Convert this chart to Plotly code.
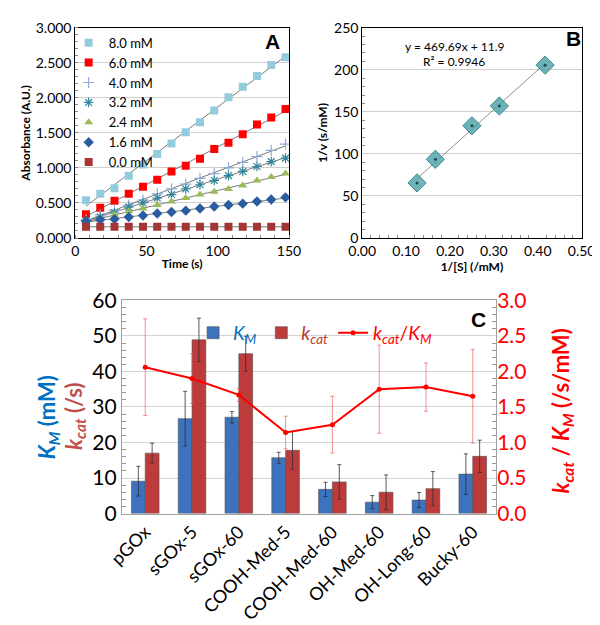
import numpy as np
import plotly.graph_objects as go

FONT = "Lato, 'Open Sans', sans-serif"

# ---------------- Panel A data ----------------
time_s = [7.5, 17.5, 27.5, 37.5, 47.5, 57.5, 67.5, 77.5, 87.5, 97.5, 107.5, 117.5, 127.5, 137.5, 147.5]
abs_8_0 = [0.54, 0.63, 0.71, 0.89, 1.05, 1.20, 1.35, 1.51, 1.65, 1.82, 2.01, 2.16, 2.31, 2.47, 2.58]
abs_6_0 = [0.34, 0.43, 0.53, 0.63, 0.73, 0.83, 0.95, 1.03, 1.13, 1.27, 1.36, 1.48, 1.62, 1.72, 1.84]
abs_4_0 = [0.26, 0.33, 0.40, 0.47, 0.54, 0.63, 0.70, 0.77, 0.85, 0.92, 1.00, 1.08, 1.16, 1.25, 1.34]
abs_3_2 = [0.25, 0.30, 0.36, 0.44, 0.50, 0.57, 0.62, 0.70, 0.76, 0.82, 0.89, 0.95, 1.02, 1.09, 1.14]
abs_2_4 = [0.23, 0.29, 0.33, 0.38, 0.42, 0.47, 0.52, 0.57, 0.62, 0.66, 0.70, 0.75, 0.82, 0.87, 0.92]
abs_1_6 = [0.24, 0.26, 0.27, 0.30, 0.32, 0.35, 0.37, 0.39, 0.42, 0.45, 0.47, 0.49, 0.52, 0.55, 0.58]
abs_0_0 = [0.16, 0.16, 0.16, 0.16, 0.16, 0.16, 0.16, 0.16, 0.16, 0.16, 0.16, 0.16, 0.16, 0.16, 0.16]
conc_labels = ["8.0 mM", "6.0 mM", "4.0 mM", "3.2 mM", "2.4 mM", "1.6 mM", "0.0 mM"]
a_ticks = [0, 0.5, 1.0, 1.5, 2.0, 2.5, 3.0]

# ---------------- Panel B data ----------------
inv_S = [0.125, 0.1667, 0.25, 0.3125, 0.4167]
inv_v = [65.5, 93.5, 133.5, 157.0, 205.5]
fit_slope = 469.69
fit_intercept = 11.9
fit_r2 = 0.9946

# ---------------- Panel C data ----------------
samples = ["pGOx", "sGOx-5", "sGOx-60", "COOH-Med-5", "COOH-Med-60", "OH-Med-60", "OH-Long-60", "Bucky-60"]
KM = [9.1, 26.7, 27.1, 15.7, 6.8, 3.2, 3.8, 11.1]
KM_err = [4.2, 7.7, 1.6, 1.55, 2.0, 1.85, 2.1, 5.7]
kcat = [17.0, 48.9, 45.0, 17.8, 8.9, 6.0, 7.0, 16.1]
kcat_err = [2.8, 6.1, 4.9, 5.3, 4.85, 4.85, 4.8, 4.55]
ratio = [2.06, 1.90, 1.67, 1.14, 1.25, 1.75, 1.78, 1.65]
ratio_err = [0.68, 0.35, 0.09, 0.23, 0.40, 0.62, 0.34, 0.66]

W, H = 600, 625
def px(x):
    return x / W
def py(y):
    return 1 - y / H

fig = go.Figure()

# ---- Panel A traces ----
styles_A = [
    dict(symbol="square", color="#93CDDD", size=8),
    dict(symbol="square", color="#FF0000", size=8),
    dict(symbol="cross-thin-open", color="#8EA9DB", size=8, line=dict(width=1.2, color="#8EA9DB")),
    dict(symbol="asterisk-open", color="#31859C", size=8, line=dict(width=1.2, color="#31859C")),
    dict(symbol="triangle-up", color="#9BBB59", size=8),
    dict(symbol="diamond", color="#2A5D9F", size=8),
    dict(symbol="square", color="#A33535", size=8),
]
series_A = [abs_8_0, abs_6_0, abs_4_0, abs_3_2, abs_2_4, abs_1_6, abs_0_0]
t = np.array(time_s)
for ys in series_A:
    m, b = np.polyfit(t, np.array(ys), 1)
    xs = [t[0], t[-1]]
    fig.add_trace(go.Scatter(x=xs, y=[m * xs[0] + b, m * xs[1] + b], mode="lines",
                             line=dict(color="#404040", width=0.7), showlegend=False,
                             xaxis="x", yaxis="y", hoverinfo="skip"))
for ys, lab, st in zip(series_A, conc_labels, styles_A):
    fig.add_trace(go.Scatter(x=time_s, y=ys, mode="markers", name=lab, marker=st,
                             xaxis="x", yaxis="y", legend="legend"))

# ---- Panel B traces ----
xfit = [min(inv_S), max(inv_S)]
fig.add_trace(go.Scatter(x=xfit, y=[fit_slope * v + fit_intercept for v in xfit], mode="lines",
                         line=dict(color="#606060", width=0.7), showlegend=False,
                         xaxis="x2", yaxis="y2"))
fig.add_trace(go.Scatter(x=inv_S, y=inv_v, mode="markers", showlegend=False,
                         marker=dict(symbol="diamond", size=14, color="rgba(72,160,165,0.8)",
                                     line=dict(color="#3A8A90", width=1)),
                         xaxis="x2", yaxis="y2"))
fig.add_trace(go.Scatter(x=inv_S, y=inv_v, mode="markers", showlegend=False,
                         marker=dict(symbol="circle", size=3, color="#1E4A50"),
                         xaxis="x2", yaxis="y2"))

# ---- Panel C traces ----
fig.add_trace(go.Bar(x=samples, y=KM, name="<span style='color:#0070C0'><i>K<sub>M</sub></i></span>",
                     marker=dict(color="#3C72BE", line=dict(color="#505050", width=0.6)),
                     error_y=dict(type="data", array=KM_err, color="#303030", thickness=0.8, width=2),
                     xaxis="x3", yaxis="y3", legend="legend2"))
fig.add_trace(go.Bar(x=samples, y=kcat, name="<span style='color:#C0392B'><i>k<sub>cat</sub></i></span>",
                     marker=dict(color="#BE3B3B", line=dict(color="#505050", width=0.6)),
                     error_y=dict(type="data", array=kcat_err, color="#303030", thickness=0.8, width=2),
                     xaxis="x3", yaxis="y3", legend="legend2"))
fig.add_trace(go.Scatter(x=samples, y=ratio, mode="lines+markers",
                         name="<span style='color:#FF0000'><i>k<sub>cat</sub></i>/<i>K<sub>M</sub></i></span>",
                         line=dict(color="#FF0000", width=2), marker=dict(size=5, color="#FF0000"),
                         error_y=dict(type="data", array=ratio_err, color="rgba(240,90,90,0.75)",
                                      thickness=0.9, width=2),
                         xaxis="x3", yaxis="y4", legend="legend2"))

tickfont_small = dict(family=FONT, size=14, color="black")
frame = dict(showline=True, linecolor="black", linewidth=1, mirror=True)

fig.update_layout(
    width=W, height=H, margin=dict(l=0, r=0, t=0, b=0),
    paper_bgcolor="white", plot_bgcolor="white",
    font=dict(family=FONT, color="black"),
    barmode="group", bargap=0.41, bargroupgap=0,
    xaxis=dict(domain=[px(54), px(279)], range=[0, 150], anchor="y", tickvals=[0, 50, 100, 150],
               ticks="", tickfont=tickfont_small, showgrid=False, zeroline=False,
               minor=dict(ticks="inside", dtick=10, ticklen=3, tickcolor="#888", showgrid=False),
               title=dict(text="<b>Time (s)</b>", font=dict(family=FONT, size=12), standoff=1), **frame),
    yaxis=dict(domain=[py(225), py(6)], range=[0, 3], anchor="x", tickvals=a_ticks, tickformat=".3f",
               ticks="", tickfont=tickfont_small, showgrid=True, gridcolor="#CFCFCF", gridwidth=1,
               zeroline=False,
               minor=dict(ticks="inside", dtick=0.1, ticklen=3, tickcolor="#888", showgrid=False),
               title=dict(text="<b>Absorbance (A.U.)</b>", font=dict(family=FONT, size=12), standoff=2), **frame),
    xaxis2=dict(domain=[px(356), px(587)], range=[0, 0.5], anchor="y2", dtick=0.1, tickformat=".2f",
                ticks="", tickfont=tickfont_small, showgrid=False, zeroline=False,
                minor=dict(ticks="inside", dtick=0.02, ticklen=3, tickcolor="#888", showgrid=False),
                title=dict(text="<b>1/[S] (/mM)</b>", font=dict(family=FONT, size=12), standoff=1), **frame),
    yaxis2=dict(domain=[py(225), py(6)], range=[0, 250], anchor="x2", dtick=50,
                ticks="", tickfont=tickfont_small, showgrid=True, gridcolor="#CFCFCF", zeroline=False,
                minor=dict(ticks="inside", dtick=10, ticklen=3, tickcolor="#888", showgrid=False),
                title=dict(text="<b>1/v (s/mM)</b>", font=dict(family=FONT, size=12), standoff=3), **frame),
    xaxis3=dict(domain=[px(103), px(497)], anchor="y3", type="category", tickangle=-45,
                tickfont=dict(family=FONT, size=18, color="black"), ticks="",
                showline=True, linecolor="#A0A0A0", linewidth=1, mirror=True),
    yaxis3=dict(domain=[py(512), py(290)], range=[0, 60], anchor="x3", dtick=10,
                tickfont=dict(family=FONT, size=21, color="black"), ticks="",
                showgrid=True, gridcolor="#D4D4D4", zeroline=False,
                minor=dict(ticks="inside", dtick=2, ticklen=4, tickcolor="#999", showgrid=False),
                showline=True, linecolor="#A0A0A0", linewidth=1, mirror=True),
    yaxis4=dict(domain=[py(512), py(290)], range=[0, 3], anchor="x3", overlaying="y3", side="right",
                dtick=0.5, tickformat=".1f", tickfont=dict(family=FONT, size=21, color="#FF0000"),
                ticks="", showgrid=False, zeroline=False,
                minor=dict(ticks="inside", dtick=0.1, ticklen=4, tickcolor="#999", showgrid=False)),
    legend=dict(x=px(47), y=py(6), xanchor="left", yanchor="top", bgcolor="rgba(0,0,0,0)",
                font=dict(family=FONT, size=13), tracegroupgap=0, itemwidth=30),
    legend2=dict(x=px(178), y=py(304), xanchor="left", yanchor="top", orientation="h",
                 bgcolor="rgba(0,0,0,0)", font=dict(family=FONT, size=19), itemwidth=30),
)

ann = [
    dict(text="<b>A</b>", x=px(262), y=py(20), font=dict(family="Arial", size=21)),
    dict(text="<b>B</b>", x=px(578), y=py(17), font=dict(family="Arial", size=21)),
    dict(text="<b>C</b>", x=px(478), y=py(310), font=dict(family="Arial", size=21)),
    dict(text=f"y = {fit_slope}x + {fit_intercept}", x=px(453), y=py(25), font=dict(family=FONT, size=12)),
    dict(text=f"R² = {fit_r2}", x=px(453), y=py(41), font=dict(family=FONT, size=12)),
    dict(text="<b><i>K<sub>M</sub></i> (mM)</b>", x=px(25), y=py(412), textangle=-90,
         font=dict(family=FONT, size=22, color="#0070C0")),
    dict(text="<b><i>k<sub>cat</sub></i> (/s)</b>", x=px(53), y=py(410), textangle=-90,
         font=dict(family=FONT, size=22, color="#C0504D")),
    dict(text="<b><i>k<sub>cat</sub></i> / <i>K<sub>M</sub></i> (/s/mM)</b>", x=px(566), y=py(405), textangle=-90,
         font=dict(family=FONT, size=22, color="#FF0000")),
]
for a in ann:
    a.update(xref="paper", yref="paper", showarrow=False, xanchor="center", yanchor="middle")
fig.update_layout(annotations=ann)

fig.write_html("out.html")
